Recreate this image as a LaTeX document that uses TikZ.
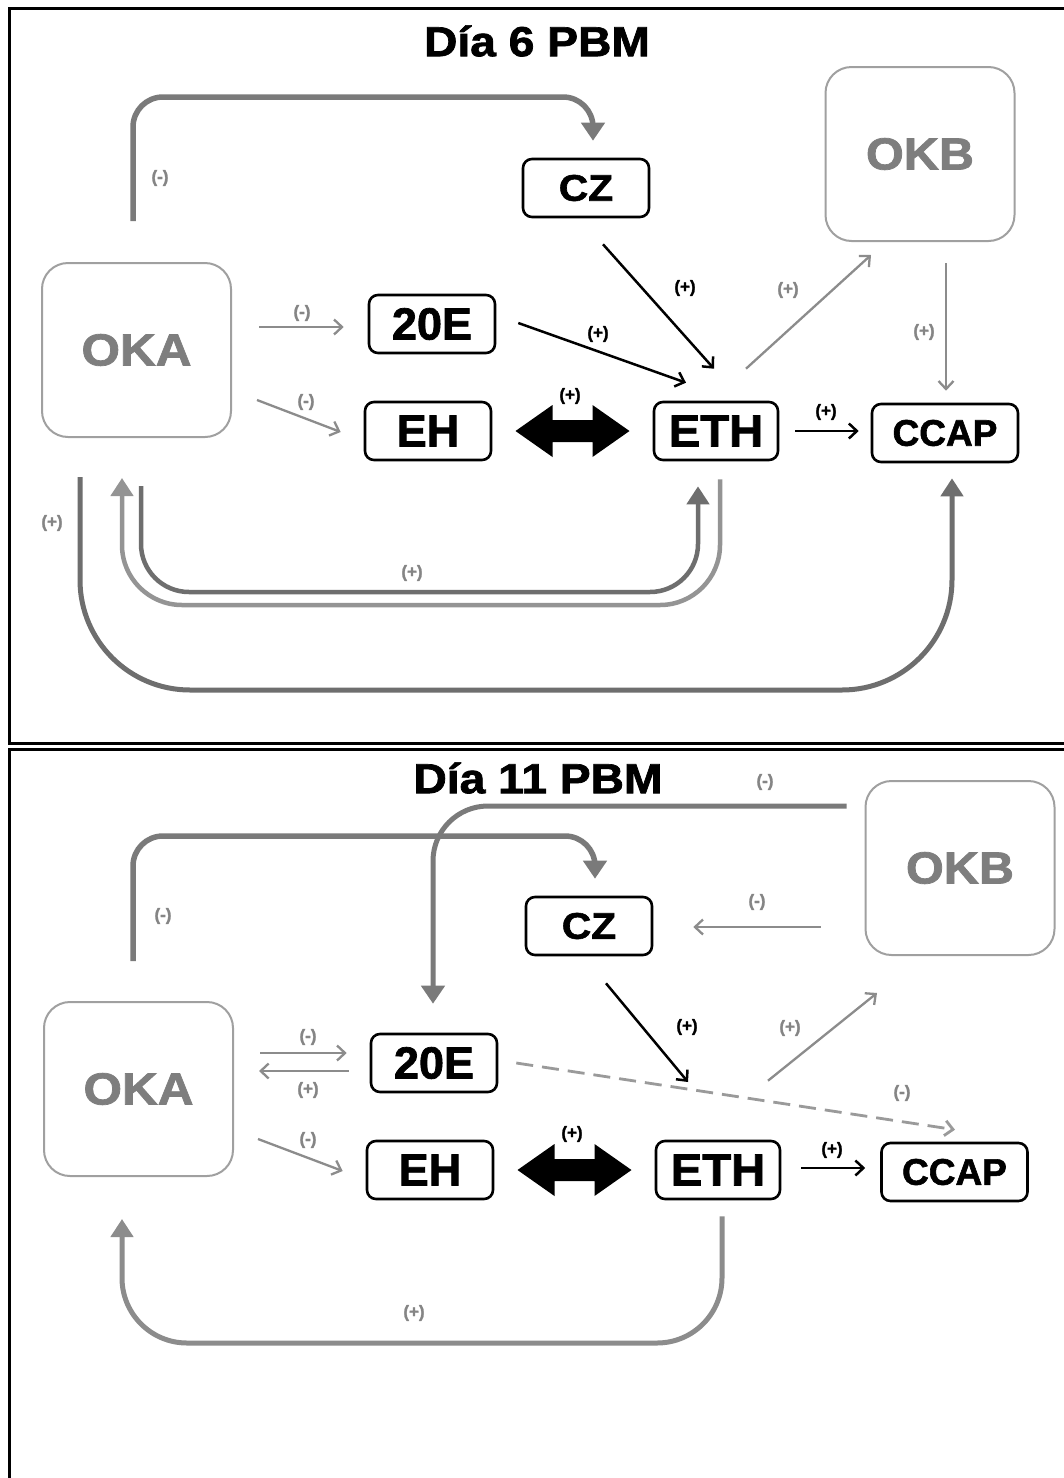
\documentclass[tikz,border=0pt]{standalone}
\usepackage{fontspec}
\setmainfont{Liberation Sans}[BoldFeatures={FakeBold=1.6}]
\usetikzlibrary{arrows.meta,calc}
\definecolor{okframe}{HTML}{A0A0A0}
\definecolor{oktext}{HTML}{7E7E7E}
\definecolor{gthin}{HTML}{8C8C8C}
\definecolor{gthick}{HTML}{7A7A7A}
\definecolor{gdark}{HTML}{6E6E6E}
\definecolor{glight}{HTML}{949494}
\definecolor{glabel}{HTML}{858585}
\definecolor{gdash}{HTML}{9A9A9A}
\begin{document}
\begin{tikzpicture}[x=1pt,y=-1pt,
  frame/.style={draw=black,line width=3pt},
  title/.style={inner sep=0pt,font=\fontsize{42}{46}\selectfont\bfseries},
  okbox/.style={draw=okframe,line width=2pt,rounded corners=26pt,
    minimum width=189pt,minimum height=174pt,inner sep=0pt,text=oktext,
    font=\fontsize{45}{48}\selectfont\bfseries},
  hbox/.style={draw=black,line width=2.6pt,rounded corners=9pt,
    minimum width=126pt,minimum height=58pt,inner sep=0pt,
    font=\fontsize{45}{48}\selectfont\bfseries},
  hboxs/.style={hbox,font=\fontsize{37}{40}\selectfont\bfseries},
  thinarr/.style={draw=gthin,line width=2.3pt,-{Straight Barb[length=8pt,width=15pt]}},
  blkarr/.style={draw=black,line width=2.5pt,-{Straight Barb[length=8pt,width=15pt]}},
  dasharr/.style={draw=gdash,line width=2.8pt,dash pattern=on 17pt off 9pt,
    -{Straight Barb[length=8pt,width=15pt]}},
  bigarr/.style={draw=gthick,line width=5.5pt,-{Triangle[length=18pt,width=23pt]}},
  lblg/.style={inner sep=0pt,text=glabel,font=\fontsize{17}{18}\selectfont\bfseries},
  lblk/.style={inner sep=0pt,text=black,font=\fontsize{17}{18}\selectfont\bfseries}]

\useasboundingbox (0,0) rectangle (1063,1478);
\fill[white] (0,0) rectangle (1063,1478);

% panel frames
\draw[frame] (9,8) rectangle (1085,743);
\draw[frame] (9,749) rectangle (1085,1500);

% ---------------- Day 6 ----------------
\node[title] (t1) at (537,41) {\scalebox{1.1}[1]{Día 6 PBM}};

\node[okbox] (oka1) at (136.5,350) {\scalebox{1.1}[1]{OKA}};
\node[okbox] (okb1) at (920,154) {\scalebox{1.08}[1]{OKB}};
\node[hboxs] (cz1) at (586,188) {\scalebox{1.1}[1]{CZ}};
\node[hbox] (tw1) at (432,324) {20E};
\node[hbox] (eh1) at (428,431) {EH};
\node[hbox,minimum width=124pt] (eth1) at (716,431) {\scalebox{1.05}[1]{ETH}};
\node[hboxs,minimum width=146pt] (ccap1) at (945,433) {CCAP};

% OKA to CZ over the top
\draw[bigarr,rounded corners=30pt] ([xshift=-3.5pt,yshift=41pt]oka1.north)
  -- (133,97) -- (593,97) -- ([xshift=7pt,yshift=17pt]cz1.north);
\node[lblg] (l1a) at (160,178) {(-)};

% thin connectors
\draw[thinarr] ([xshift=27pt,yshift=23pt]oka1.east) -- ([xshift=-24pt,yshift=-3pt]tw1.west);
\node[lblg] (l1b) at (302,313) {(-)};
\draw[thinarr] ([xshift=25pt,yshift=-50pt]oka1.east) -- ([xshift=-23pt,yshift=-1pt]eh1.west);
\node[lblg] (l1c) at (306,402) {(-)};
\draw[blkarr] ([xshift=17pt,yshift=-26pt]cz1.south) -- ([xshift=-2pt,yshift=32pt]eth1.north);
\node[lblk] (l1d) at (685,288) {(+)};
\draw[blkarr] ([xshift=22pt,yshift=1pt]tw1.east) -- ([xshift=-30pt,yshift=18pt]eth1.north);
\node[lblk] (l1e) at (598,334) {(+)};
\draw[thinarr] ([xshift=30pt,yshift=32pt]eth1.north) -- ([xshift=-49pt,yshift=-13pt]okb1.south);
\node[lblg] (l1f) at (788,290) {(+)};
\draw[thinarr] ([xshift=26pt,yshift=-21pt]okb1.south) -- ([xshift=1pt,yshift=12pt]ccap1.north);
\node[lblg] (l1g) at (924,332) {(+)};
\draw[blkarr] ([xshift=16pt]eth1.east) -- ([xshift=-12pt,yshift=2pt]ccap1.west);
\node[lblk] (l1h) at (826,412) {(+)};

% EH <-> ETH
\coordinate (m1) at ($(eh1.east)!0.5!(eth1.west)$);
\fill[black] (m1) ++(-57,0) -- ++(37,-26) -- ++(0,15) -- ++(40,0) -- ++(0,-15)
  -- ++(37,26) -- ++(-37,26) -- ++(0,-15) -- ++(-40,0) -- ++(0,15) -- cycle;
\node[lblk] (l1i) at (570,396) {(+)};

% loops below
\draw[draw=gdark,line width=4.5pt,-{Triangle[length=18pt,width=22pt]},rounded corners=48pt]
  ([xshift=4.5pt,yshift=-48pt]oka1.south) -- (141,592) -- (698,592)
  -- ([xshift=-18pt,yshift=-25pt]eth1.south);
\draw[draw=glight,line width=4.5pt,-{Triangle[length=18pt,width=22pt]},rounded corners=60pt]
  ([xshift=4pt,yshift=-18pt]eth1.south) -- (720,605) -- (122,605)
  -- ([xshift=-14.5pt,yshift=-40pt]oka1.south);
\node[lblg] (l1j) at (412,573) {(+)};
\draw[draw=gdark,line width=5pt,-{Triangle[length=18pt,width=22pt]},rounded corners=110pt]
  ([xshift=-56.5pt,yshift=-39pt]oka1.south) -- (80,690) -- (952,690)
  -- ([xshift=7pt,yshift=-15pt]ccap1.south);
\node[lblg] (l1k) at (52,523) {(+)};

% ---------------- Day 11 ----------------
\node[title] (t2) at (538,778) {\scalebox{1.1}[1]{Día 11 PBM}};

\node[okbox] (oka2) at (138.5,1089) {\scalebox{1.1}[1]{OKA}};
\node[okbox] (okb2) at (960,868) {\scalebox{1.08}[1]{OKB}};
\node[hboxs] (cz2) at (589,926) {\scalebox{1.1}[1]{CZ}};
\node[hbox] (tw2) at (434,1063) {20E};
\node[hbox] (eh2) at (430,1170) {EH};
\node[hbox,minimum width=124pt] (eth2) at (718,1170) {\scalebox{1.05}[1]{ETH}};
\node[hboxs,minimum width=146pt] (ccap2) at (954.5,1172) {CCAP};

% OKA to CZ over the top
\draw[bigarr,rounded corners=30pt] ([xshift=-5.5pt,yshift=40pt]oka2.north)
  -- (133,836) -- (595,836) -- ([xshift=6pt,yshift=17pt]cz2.north);
\node[lblg] (l2a) at (163,916) {(-)};

% OKB to 20E
\draw[bigarr,line width=5pt,rounded corners=55pt] ([xshift=-18pt,yshift=62pt]okb2.west)
  -- (433,806) -- ([xshift=-1pt,yshift=29pt]tw2.north);
\node[lblg] (l2b) at (765,782) {(-)};

% thin connectors
\draw[thinarr] ([xshift=-44pt,yshift=-59pt]okb2.west) -- ([xshift=40pt,yshift=-1pt]cz2.east);
\node[lblg] (l2c) at (757,902) {(-)};
\draw[thinarr] ([xshift=26pt,yshift=36pt]oka2.east) -- ([xshift=-23pt,yshift=10pt]tw2.west);
\node[lblg] (l2d) at (308,1037) {(-)};
\draw[thinarr] ([xshift=-21pt,yshift=-8pt]tw2.west) -- ([xshift=25pt,yshift=18pt]oka2.east);
\node[lblg] (l2e) at (308,1090) {(+)};
\draw[thinarr] ([xshift=24pt,yshift=-50pt]oka2.east) -- ([xshift=-23pt,yshift=-1pt]eh2.west);
\node[lblg] (l2f) at (308,1140) {(-)};

\coordinate (j2) at (688,1082);
\draw[blkarr] ([xshift=17pt,yshift=-27pt]cz2.south) -- (j2);
\node[lblk] (l2g) at (687,1027) {(+)};
\draw[dasharr] ([xshift=18pt]tw2.east) -- ([xshift=0.5pt,yshift=12pt]ccap2.north);
\node[lblg] (l2h) at (902,1093) {(-)};
\draw[thinarr] ([xshift=50pt,yshift=59pt]eth2.north) -- ([xshift=-83pt,yshift=-37pt]okb2.south);
\node[lblg] (l2i) at (790,1028) {(+)};
\draw[blkarr] ([xshift=20pt,yshift=2pt]eth2.east) -- ([xshift=-15pt,yshift=4pt]ccap2.west);
\node[lblk] (l2j) at (832,1150) {(+)};

% EH <-> ETH
\coordinate (m2) at ($(eh2.east)!0.5!(eth2.west)$);
\fill[black] (m2) ++(-57,0) -- ++(37,-26) -- ++(0,15) -- ++(40,0) -- ++(0,-15)
  -- ++(37,26) -- ++(-37,26) -- ++(0,-15) -- ++(-40,0) -- ++(0,15) -- cycle;
\node[lblk] (l2k) at (572,1134) {(+)};

% ETH back to OKA
\draw[draw=gthin,line width=5pt,-{Triangle[length=18pt,width=22pt]},rounded corners=65pt]
  ([xshift=4pt,yshift=-16pt]eth2.south) -- (722,1343) -- (122,1343)
  -- ([xshift=-16.5pt,yshift=-42pt]oka2.south);
\node[lblg] (l2l) at (414,1313) {(+)};

\end{tikzpicture}
\end{document}
